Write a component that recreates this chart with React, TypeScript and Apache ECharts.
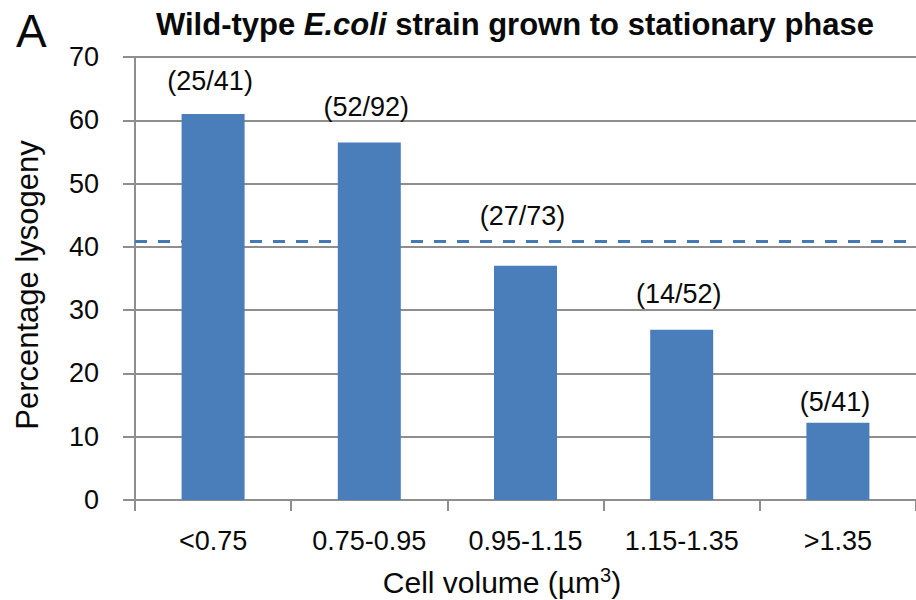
import { useEffect, useRef } from "react";
import * as echarts from "echarts";

// Cell-volume bins and the share of infections that went lysogenic in each
const categories = ["<0.75", "0.75-0.95", "0.95-1.15", "1.15-1.35", ">1.35"];
const lysogenyPct = [61.0, 56.5, 37.0, 26.9, 12.2];
const countLabels = ["(25/41)", "(52/92)", "(27/73)", "(14/52)", "(5/41)"];
// Population-wide lysogeny frequency (dashed reference)
const overallPct = 40.9;

// Value axis ticks
const yMin = 0;
const yMax = 70;
const yStep = 10;

// Layout/styling
const FONT = "'Liberation Sans', Arial, Helvetica, sans-serif";
const GRID_GREY = "#8e8e8e";
const BAR_BLUE = "#4a7ebb";
const TEXT = "#0a0a0a";
const labelLift = [19, 22, 36, 22, 7];

export default function App() {
  const ref = useRef<HTMLDivElement>(null);

  useEffect(() => {
    if (!ref.current) return;
    const chart = echarts.init(ref.current, undefined, { renderer: "svg" });

    chart.setOption({
      animation: false,
      backgroundColor: "#ffffff",
      textStyle: { fontFamily: FONT },
      grid: { left: 135, top: 57, width: 785, height: 443, containLabel: false },
      xAxis: {
        type: "category",
        data: categories,
        axisLine: { show: true, lineStyle: { color: GRID_GREY, width: 2 } },
        axisTick: {
          show: true,
          alignWithLabel: false,
          length: 11,
          lineStyle: { color: GRID_GREY, width: 2 },
        },
        axisLabel: { fontSize: 27, color: TEXT, margin: 27, fontFamily: FONT },
        splitLine: { show: false },
      },
      yAxis: {
        type: "value",
        min: yMin,
        max: yMax,
        interval: yStep,
        axisLine: { show: true, lineStyle: { color: GRID_GREY, width: 2 } },
        axisTick: { show: true, length: 12, lineStyle: { color: GRID_GREY, width: 2 } },
        axisLabel: { fontSize: 27, color: TEXT, margin: 36, fontFamily: FONT },
        splitLine: { show: true, lineStyle: { color: GRID_GREY, width: 2 } },
      },
      series: [
        {
          type: "line",
          data: [],
          z: 1,
          silent: true,
          markLine: {
            z: 1,
            silent: true,
            symbol: ["none", "none"],
            label: { show: false },
            lineStyle: { color: "#4479b6", width: 3, type: [12, 11] },
            data: [{ yAxis: overallPct }],
          },
        },
        {
          type: "bar",
          z: 2,
          barWidth: 63,
          itemStyle: { color: BAR_BLUE },
          data: lysogenyPct.map((v, i) => ({
            value: v,
            label: { offset: [-3, -labelLift[i]] },
          })),
          label: {
            show: true,
            position: "top",
            distance: 0,
            fontSize: 27,
            color: TEXT,
            fontFamily: FONT,
            formatter: (p: any) => countLabels[p.dataIndex],
          },
        },
      ],
      graphic: [
        {
          type: "text",
          x: 16,
          y: 31,
          style: {
            text: "A",
            fontSize: 46,
            fontFamily: FONT,
            fill: TEXT,
            align: "left",
            verticalAlign: "middle",
          },
        },
        {
          type: "text",
          x: 515,
          y: 24,
          style: {
            text: "{b|Wild-type }{i|E.coli}{b| strain grown to stationary phase}",
            align: "center",
            verticalAlign: "middle",
            fill: TEXT,
            rich: {
              b: { fontSize: 31, fontWeight: "bold", fontFamily: FONT, fill: TEXT },
              i: {
                fontSize: 31,
                fontWeight: "bold",
                fontStyle: "italic",
                fontFamily: FONT,
                fill: TEXT,
              },
            },
          },
        },
        {
          type: "text",
          x: 27,
          y: 285,
          rotation: Math.PI / 2,
          style: {
            text: "Percentage lysogeny",
            fontSize: 31,
            fontFamily: FONT,
            fill: TEXT,
            align: "center",
            verticalAlign: "middle",
          },
        },
        {
          type: "text",
          x: 502,
          y: 582,
          style: {
            text: "{n|Cell volume (µm}{s|3}{n|)}",
            align: "center",
            verticalAlign: "middle",
            fill: TEXT,
            rich: {
              n: { fontSize: 30, lineHeight: 34, fontFamily: FONT, fill: TEXT },
              s: { fontSize: 20, verticalAlign: "top", fontFamily: FONT, fill: TEXT },
            },
          },
        },
      ],
    });

    return () => chart.dispose();
  }, []);

  return (
    <div
      ref={ref}
      style={{ position: "fixed", left: 0, top: 0, width: 916, height: 600, overflow: "hidden" }}
    />
  );
}
